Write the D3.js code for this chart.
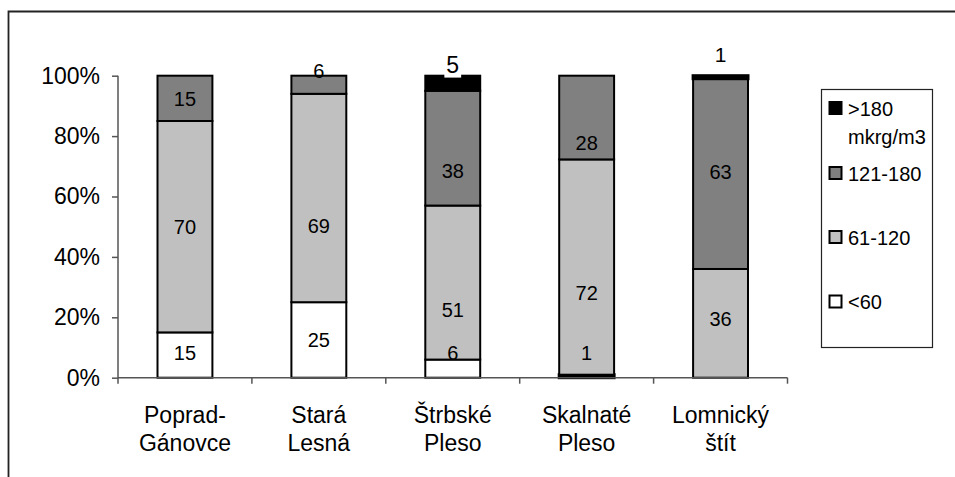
<!DOCTYPE html>
<html>
<head>
<meta charset="utf-8">
<script src="https://cdn.jsdelivr.net/npm/d3@7"></script>
<style>
  html, body { margin: 0; padding: 0; background: #fff; }
  svg { display: block; font-family: "Liberation Sans", Arial, sans-serif; }
</style>
</head>
<body>
<svg id="chart" width="955" height="477"></svg>
<script>
// Stations (each label split into two display lines)
const categories = ["Poprad-Gánovce", "Stará Lesná", "Štrbské Pleso", "Skalnaté Pleso", "Lomnický štít"];
const categoryLines = [["Poprad-", "Gánovce"], ["Stará", "Lesná"], ["Štrbské", "Pleso"], ["Skalnaté", "Pleso"], ["Lomnický", "štít"]];

// Concentration classes, bottom to top
const seriesNames = ["<60", "61-120", "121-180", ">180 mkrg/m3"];
const lt60     = [15, 25, 6, 1, 0];
const s61_120  = [70, 69, 51, 72, 36];
const s121_180 = [15, 6, 38, 28, 63];
const gt180    = [0, 0, 5, 0, 1];

const yTickValues = [0, 0.2, 0.4, 0.6, 0.8, 1];

// ---- drawing ----
const seriesValues = [lt60, s61_120, s121_180, gt180];
const fills = ["#ffffff", "#c0c0c0", "#808080", "#000000"];

const rows = categories.map((c, i) => {
  const r = { cat: c };
  seriesNames.forEach((s, j) => { r[s] = seriesValues[j][i]; });
  return r;
});

const stack = d3.stack().keys(seriesNames).offset(d3.stackOffsetExpand);
const stacked = stack(rows);

const svg = d3.select("#chart");

// outer chart frame (right and bottom edges fall outside the view)
svg.append("path")
  .attr("d", "M8.5,480 V11.5 H960")
  .attr("fill", "none").attr("stroke", "#222").attr("stroke-width", 1.8);

const plot = { left: 118, right: 787.5, top: 75.7, bottom: 377.7 };

const x = d3.scaleBand().domain(categories)
  .range([plot.left, plot.right])
  .paddingInner(0.59).paddingOuter(0.295);
const y = d3.scaleLinear().domain([0, 1]).range([plot.bottom, plot.top]);

// bars
const layers = svg.append("g").selectAll("g").data(stacked).join("g")
  .attr("fill", (d, i) => fills[i]);
layers.selectAll("rect")
  .data(d => d.filter(s => s[1] - s[0] > 0))
  .join("rect")
  .attr("x", d => x(d.data.cat))
  .attr("width", x.bandwidth())
  .attr("y", d => y(d[1]))
  .attr("height", d => y(d[0]) - y(d[1]))
  .attr("stroke", "#000")
  .attr("stroke-width", d => (y(d[0]) - y(d[1]) < 4 ? 3 : 2));

// axes
const axisColor = "#555";
const yAxis = svg.append("g")
  .attr("transform", `translate(${plot.left},0)`)
  .call(d3.axisLeft(y).tickValues(yTickValues).tickFormat(d3.format(".0%"))
    .tickSize(6).tickPadding(12).tickSizeOuter(0));
yAxis.select(".domain").attr("stroke", axisColor).attr("stroke-width", 1.5)
  .attr("d", `M0,${plot.top}V${plot.bottom + 6}`);
yAxis.selectAll(".tick line").attr("stroke", axisColor).attr("stroke-width", 1.5);
yAxis.selectAll(".tick text").attr("font-size", 23).attr("fill", "#000")
  .attr("font-family", "Liberation Sans, Arial, sans-serif");

const xAxis = svg.append("g");
xAxis.append("line")
  .attr("x1", plot.left).attr("x2", plot.right)
  .attr("y1", plot.bottom).attr("y2", plot.bottom)
  .attr("stroke", axisColor).attr("stroke-width", 1.5);
const boundaries = d3.range(categories.length + 1).map(i => plot.left + i * x.step());
xAxis.selectAll("line.tick").data(boundaries.slice(1)).join("line")
  .attr("class", "tick")
  .attr("x1", d => d).attr("x2", d => d)
  .attr("y1", plot.bottom).attr("y2", plot.bottom + 6)
  .attr("stroke", axisColor).attr("stroke-width", 1.5);

const catText = xAxis.selectAll("text").data(categories).join("text")
  .attr("x", d => x(d) + x.bandwidth() / 2)
  .attr("text-anchor", "middle")
  .attr("font-size", 23).attr("fill", "#000");
catText.each(function (d, i) {
  d3.select(this).selectAll("tspan").data(categoryLines[i]).join("tspan")
    .attr("x", x(d) + x.bandwidth() / 2)
    .attr("y", (t, k) => 423 + k * 28)
    .text(t => t);
});

// value labels; per-label vertical nudges and styling
const labelStyle = {
  "0-0": { dy: -2 },
  "1-2": { dy: -14 }, "1-1": { dy: 28 },
  "2-3": { dy: -19, size: 23, box: true }, "2-2": { dy: 23 }, "2-1": { dy: 27 }, "2-0": { dy: -16 },
  "3-2": { dy: 25 }, "3-1": { dy: 26 }, "3-0": { dy: -23 },
  "4-3": { dy: -23, size: 21 }, "4-2": { dy: -2 }, "4-1": { dy: -5 }
};
const labelsG = svg.append("g");
stacked.forEach((layer, j) => {
  layer.forEach((seg, i) => {
    const v = seriesValues[j][i];
    if (!v) return;
    const st = labelStyle[`${i}-${j}`] || {};
    const size = st.size || 20;
    const cx = x(seg.data.cat) + x.bandwidth() / 2;
    const cy = (y(seg[0]) + y(seg[1])) / 2 + (st.dy || 0);
    if (st.box) {
      const w = String(v).length * size * 0.556 + 4;
      labelsG.append("rect")
        .attr("x", cx - w / 2).attr("y", cy - size * 0.62)
        .attr("width", w).attr("height", size * 1.2)
        .attr("fill", "#fff");
    }
    labelsG.append("text")
      .attr("x", cx).attr("y", cy).attr("dy", "0.36em")
      .attr("text-anchor", "middle")
      .attr("font-size", size).attr("fill", "#000")
      .text(v);
  });
});

// legend (top entry is the highest class)
const legend = svg.append("g");
legend.append("rect")
  .attr("x", 821.5).attr("y", 89.5).attr("width", 111).attr("height", 258)
  .attr("fill", "#fff").attr("stroke", "#222").attr("stroke-width", 1.2);
const legendOrder = [3, 2, 1, 0];
const legendY = [108.5, 173.5, 237.5, 302];
legendOrder.forEach((j, k) => {
  const cy = legendY[k];
  legend.append("rect")
    .attr("x", 829.5).attr("y", cy - 6.5).attr("width", 12).attr("height", 12)
    .attr("fill", fills[j]).attr("stroke", "#000").attr("stroke-width", 2);
  const parts = seriesNames[j].split(" ");
  const t = legend.append("text").attr("font-size", 20).attr("fill", "#000");
  parts.forEach((p, m) => {
    t.append("tspan").attr("x", 848).attr("y", cy + m * 28.5).attr("dy", "0.36em").text(p);
  });
});
</script>
</body>
</html>
